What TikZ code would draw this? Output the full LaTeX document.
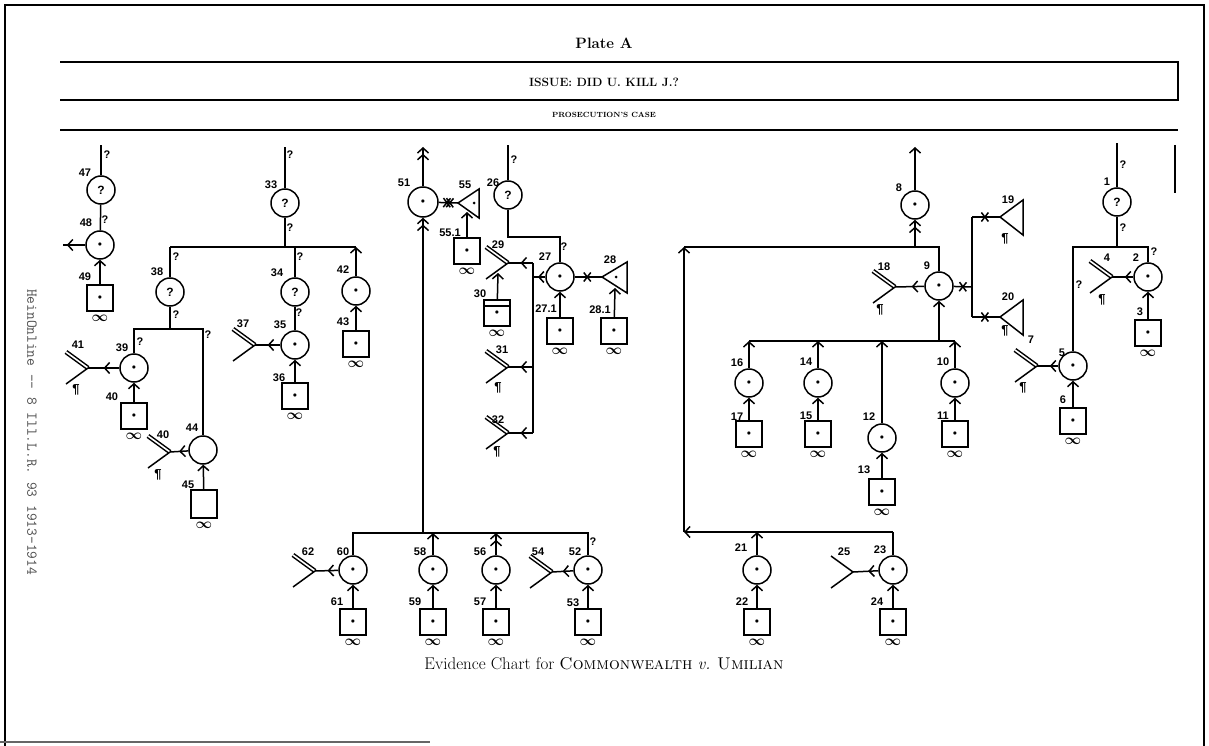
\documentclass[tikz,border=0pt]{standalone}
\usepackage{fontspec}
\newfontfamily\lab{Liberation Sans}
\usetikzlibrary{arrows.meta,decorations.markings}
\newcommand{\dt}{{\fontsize{8}{8}\selectfont$\bullet$}}
\tikzset{
 cir/.style={circle,draw,minimum size=28pt,inner sep=0pt,font=\lab\bfseries\fontsize{12}{12}\selectfont},
 sq/.style={draw,minimum size=26pt,inner sep=0pt,label={[inflab,label distance=2.5pt]below:$\infty$}},
 inflab/.style={font=\boldmath\fontsize{14}{14}\selectfont,inner sep=0.3pt},
 num/.style={font=\lab\bfseries\fontsize{11}{11}\selectfont,inner sep=0pt},
 pil/.style={font=\lab\bfseries\fontsize{13}{13}\selectfont,inner sep=0pt},
 qm/.style={font=\lab\bfseries\fontsize{11}{11}\selectfont,inner sep=0pt},
 arr/.style={-{Straight Barb[length=5pt,width=11pt]}},
 darr/.style={-{Straight Barb[length=5pt,width=11pt] Straight Barb[length=5pt,width=11pt]}},
 midtip/.style={postaction={decorate},decoration={markings,mark=at position #1 with {\arrow{Straight Barb[length=5pt,width=11pt]}}}},
 xm/.style={postaction={decorate},decoration={markings,mark=at position #1 with {\draw[-] (-3.5pt,-4.5pt)--(3.5pt,4.5pt) (-3.5pt,4.5pt)--(3.5pt,-4.5pt);}}},
 xx/.style={postaction={decorate},decoration={markings,mark=at position #1 with {\draw[-] (-5pt,-4.5pt)--(2pt,4.5pt) (-5pt,4.5pt)--(2pt,-4.5pt) (-2pt,-4.5pt)--(5pt,4.5pt) (-2pt,4.5pt)--(5pt,-4.5pt);}}},
 yfork/.pic={\coordinate (-v) at (0,0);
   \draw[double,double distance=1.6pt] (0,0) -- (-22,-16);
   \draw (0,0) -- (-22,16);},
 yfsingle/.pic={\coordinate (-v) at (0,0);
   \draw (0,0) -- (-22,-16);
   \draw (0,0) -- (-22,16);}
}
\begin{document}
\begin{tikzpicture}[x=1pt,y=-1pt,line width=1.5pt]
\useasboundingbox (0,0) rectangle (1209,746);
% frame
\draw (5,746) -- (5,5) -- (1204,5) -- (1204,746);
\draw[black!60] (0,742) -- (430,742);
% header
\draw (60,62) -- (1178,62) -- (1178,100) -- (60,100);
\draw (60,130) -- (1178,130);
\draw (1175,145) -- (1175,193);
\node[font=\bfseries\fontsize{15}{15}\selectfont] (plate) at (604,43) {Plate A};
\node[font=\bfseries\fontsize{12}{12}\selectfont] (issue) at (604,82) {ISSUE: DID U. KILL J.?};
\node[font=\bfseries\fontsize{7.5}{7.5}\selectfont] (pros) at (604,115) {PROSECUTION'S CASE};
\node[rotate=-90,font=\ttfamily\fontsize{15}{15}\selectfont,text=black!70] (hein) at (32,432) {HeinOnline -- 8 Ill.L.R. 93 1913-1914};
\node[font=\fontsize{17}{17}\selectfont] (cap) at (604,664) {Evidence Chart for \textsc{Commonwealth} \textit{v.} \textsc{Umilian}};

% ---------- circles
\node[cir] (c47) at (101,190) {?};
\node[cir] (c48) at (100,245) {\dt};
\node[cir] (c38) at (170,292) {?};
\node[cir] (c39) at (134,368) {\dt};
\node[cir] (c44) at (203,450) {};
\node[cir] (c33) at (285,203) {?};
\node[cir] (c34) at (295,292) {?};
\node[cir] (c35) at (295,345) {\dt};
\node[cir] (c42) at (356,291) {\dt};
\node[cir,minimum size=30pt] (c51) at (423,202) {\dt};
\node[cir] (c26) at (508,195) {?};
\node[cir] (c27) at (560,277) {\dt};
\node[cir] (c60) at (353,570) {\dt};
\node[cir] (c58) at (433,570) {\dt};
\node[cir] (c56) at (496,570) {\dt};
\node[cir] (c52) at (588,570) {\dt};
\node[cir] (c8) at (915,205) {\dt};
\node[cir] (c9) at (939,286) {\dt};
\node[cir] (c16) at (749,383) {\dt};
\node[cir] (c14) at (818,383) {\dt};
\node[cir] (c12) at (882,438) {\dt};
\node[cir] (c10) at (955,383) {\dt};
\node[cir] (c21) at (757,570) {\dt};
\node[cir] (c23) at (893,570) {\dt};
\node[cir] (c1) at (1117,202) {?};
\node[cir] (c2) at (1148,277) {\dt};
\node[cir] (c5) at (1073,366) {\dt};

% ---------- squares
\node[sq] (s49) at (100,298) {\dt};
\node[sq] (s40) at (134,416) {\dt};
\node[sq,minimum height=28pt] (s45) at (204,504) {};
\node[sq] (s36) at (295,396) {\dt};
\node[sq] (s43) at (356,344) {\dt};
\node[sq] (s551) at (467,251) {\dt};
\node[sq,path picture={\draw ([yshift=-6pt]path picture bounding box.north west) -- ([yshift=-6pt]path picture bounding box.north east);}] (s30) at (497,313) {\dt};
\node[sq] (s271) at (560,331) {\dt};
\node[sq] (s281) at (614,331) {\dt};
\node[sq] (s61) at (353,622) {\dt};
\node[sq] (s59) at (433,622) {\dt};
\node[sq] (s57) at (496,622) {\dt};
\node[sq] (s53) at (588,622) {\dt};
\node[sq] (s17) at (749,434) {\dt};
\node[sq] (s15) at (818,434) {\dt};
\node[sq] (s11) at (955,434) {\dt};
\node[sq] (s13) at (882,492) {\dt};
\node[sq] (s22) at (757,622) {\dt};
\node[sq] (s24) at (893,622) {\dt};
\node[sq] (s3) at (1148,333) {\dt};
\node[sq] (s6) at (1073,421) {\dt};

% ---------- triangles (apex left)
\draw (458,203) coordinate (t55) -- (479,189) -- (479,218) -- cycle;
\fill (474,203) circle (1.5pt);
\draw (602,277) coordinate (t28) -- (627,262) -- (627,293) -- cycle;
\fill (616,277) circle (1.5pt);
\draw (1000,217) coordinate (t19) -- (1023,200) -- (1023,235) -- cycle;
\draw (1000,317) coordinate (t20) -- (1023,300) -- (1023,335) -- cycle;

% ---------- forks
\pic (y41) at (88,368) {yfork};
\pic (y40) at (170,452) {yfork};
\pic (y37) at (255,345) {yfork};
\pic (y29) at (508,263) {yfork};
\pic (y31) at (508,367) {yfork};
\pic (y32) at (508,433) {yfork};
\pic (y62) at (315,571) {yfork};
\pic (y54) at (552,572) {yfork};
\pic (y18) at (895,287) {yfork};
\pic (y25) at (853,572) {yfsingle};
\pic (y4) at (1112,277) {yfork};
\pic (y7) at (1037,366) {yfork};

% ---------- coordinates
\coordinate (top47) at (101,145);
\coordinate (l48) at (63,245);
\coordinate (j38) at (170,247);
\coordinate (j33) at (285,247);
\coordinate (j34) at (295,247);
\coordinate (j42) at (356,247);
\coordinate (top33) at (285,147);
\coordinate (j38b) at (170,329);
\coordinate (h39) at (134,329);
\coordinate (h44) at (203,329);
\coordinate (top51) at (423,147);
\coordinate (bj51) at (423,533);
\coordinate (tb55) at (467,212);
\coordinate (top26) at (508,145);
\coordinate (a26) at (508,237);
\coordinate (j27) at (560,237);
\coordinate (v27) at (533,277);
\coordinate (v29) at (533,263);
\coordinate (v31) at (533,367);
\coordinate (v32) at (533,433);
\coordinate (a30) at (498,273);
\coordinate (tb28) at (615,288);
\coordinate (h60) at (353,533);
\coordinate (h52) at (588,533);
\coordinate (h58) at (433,533);
\coordinate (h56) at (496,533);
\coordinate (top8) at (915,147);
\coordinate (j8) at (915,247);
\coordinate (tl) at (684,247);
\coordinate (bl) at (684,532);
\coordinate (j9) at (939,247);
\coordinate (h23) at (893,532);
\coordinate (h21) at (757,532);
\coordinate (r9) at (972,287);
\coordinate (r19) at (972,217);
\coordinate (r20) at (972,317);
\coordinate (b9) at (939,341);
\coordinate (h16) at (749,341);
\coordinate (h14) at (818,341);
\coordinate (h12) at (882,341);
\coordinate (h10) at (955,341);
\coordinate (top1) at (1117,143);
\coordinate (j1) at (1117,247);
\coordinate (h5) at (1073,247);
\coordinate (h2) at (1148,247);

% ---------- connectors: left
\draw (c47) -- (top47);
\draw (c47) -- (c48);
\draw[midtip=0.83] (c48) -- (l48);
\draw[arr] (s49) -- (c48);
\draw (j38) -- (j42);
\draw (c38) -- (j38);
\draw (c33) -- (j33);
\draw (c33) -- (top33);
\draw (j34) -- (c34);
\draw[arr] (c42) -- (j42);
\draw (c38) -- (j38b);
\draw (c39) -- (h39) -- (h44) -- (c44);
\draw[midtip=0.5] (c39) -- (y41-v);
\draw[arr] (s40) -- (c39);
\draw[midtip=0.5] (c44) -- (y40-v);
\draw[arr] (s45) -- (c44);
\draw (c34) -- (c35);
\draw[midtip=0.5] (c35) -- (y37-v);
\draw[arr] (s36) -- (c35);
\draw[arr] (s43) -- (c42);

% ---------- connectors: centre
\draw[darr] (bj51) -- (c51);
\draw[darr] (c51) -- (top51);
\draw[xx=0.5] (c51) -- (t55);
\draw[arr] (s551) -- (tb55);
\draw (c26) -- (top26);
\draw (c26) -- (a26) -- (j27) -- (c27);
\draw[midtip=0.6] (c27) -- (v27);
\draw (v29) -- (v32);
\draw[midtip=0.5] (v29) -- (y29-v);
\draw[midtip=0.5] (v31) -- (y31-v);
\draw[midtip=0.5] (v32) -- (y32-v);
\draw[arr] (s30) -- (a30);
\draw[xm=0.46] (c27) -- (t28);
\draw[arr] (s271) -- (c27);
\draw[arr] (s281) -- (tb28);

% ---------- connectors: bottom centre
\draw (c60) -- (h60) -- (h52) -- (c52);
\draw[arr] (c58) -- (h58);
\draw[darr] (c56) -- (h56);
\draw[midtip=0.46] (c60) -- (y62-v);
\draw[midtip=0.5] (c52) -- (y54-v);
\draw[arr] (s61) -- (c60);
\draw[arr] (s59) -- (c58);
\draw[arr] (s57) -- (c56);
\draw[arr] (s53) -- (c52);

% ---------- connectors: right centre
\draw[arr] (c8) -- (top8);
\draw[darr] (j8) -- (c8);
\draw (tl) -- (j9) -- (c9);
\draw[arr] (bl) -- (tl);
\draw (c23) -- (h23);
\draw[arr] (h23) -- (bl);
\draw[arr] (c21) -- (h21);
\draw[midtip=0.43] (c9) -- (y18-v);
\draw[xm=0.5] (c9) -- (r9);
\draw (r19) -- (r20);
\draw[xm=0.46] (r19) -- (t19);
\draw[xm=0.46] (r20) -- (t20);
\draw[arr] (b9) -- (c9);
\draw (h16) -- (h10);
\draw[arr] (c16) -- (h16);
\draw[arr] (c14) -- (h14);
\draw[arr] (c12) -- (h12);
\draw[arr] (c10) -- (h10);
\draw[arr] (s17) -- (c16);
\draw[arr] (s15) -- (c14);
\draw[arr] (s13) -- (c12);
\draw[arr] (s11) -- (c10);
\draw[arr] (s22) -- (c21);
\draw[arr] (s24) -- (c23);
\draw[midtip=0.4] (c23) -- (y25-v);

% ---------- connectors: right
\draw (c1) -- (top1);
\draw (c1) -- (j1);
\draw (c5) -- (h5) -- (h2) -- (c2);
\draw[midtip=0.4] (c2) -- (y4-v);
\draw[midtip=0.4] (c5) -- (y7-v);
\draw[arr] (s3) -- (c2);
\draw[arr] (s6) -- (c5);

% ---------- question marks on lines
\node[qm] (q1) at (107,155) {?};
\node[qm] (q2) at (105,220) {?};
\node[qm] (q3) at (176,257) {?};
\node[qm] (q4) at (176,315) {?};
\node[qm] (q5) at (140,342) {?};
\node[qm] (q6) at (208,335) {?};
\node[qm] (q7) at (290,155) {?};
\node[qm] (q8) at (290,228) {?};
\node[qm] (q9) at (300,257) {?};
\node[qm] (q10) at (299,313) {?};
\node[qm] (q11) at (514,160) {?};
\node[qm] (q12) at (564,247) {?};
\node[qm] (q13) at (593,542) {?};
\node[qm] (q14) at (1123,165) {?};
\node[qm] (q15) at (1123,228) {?};
\node[qm] (q16) at (1154,252) {?};
\node[qm] (q17) at (1079,285) {?};

% ---------- number labels
\node[num] (n47) at (85,173) {47};
\node[num] (n48) at (86,223) {48};
\node[num] (n49) at (85,277) {49};
\node[num] (n38) at (157,272) {38};
\node[num] (n39) at (122,348) {39};
\node[num] (n41) at (78,345) {41};
\node[pil] (p41) at (76,390) {¶};
\node[num] (n40a) at (112,397) {40};
\node[num] (n40b) at (163,435) {40};
\node[pil] (p40) at (158,475) {¶};
\node[num] (n44) at (192,428) {44};
\node[num] (n45) at (188,485) {45};
\node[num] (n33) at (271,185) {33};
\node[num] (n34) at (277,273) {34};
\node[num] (n35) at (280,325) {35};
\node[num] (n37) at (243,324) {37};
\node[num] (n36) at (279,378) {36};
\node[num] (n42) at (343,270) {42};
\node[num] (n43) at (343,322) {43};
\node[num] (n51) at (404,183) {51};
\node[num] (n55) at (465,185) {55};
\node[num] (n551) at (450,233) {55.1};
\node[num] (n26) at (493,183) {26};
\node[num] (n29) at (498,245) {29};
\node[num] (n27) at (545,257) {27};
\node[num] (n28) at (610,260) {28};
\node[num] (n30) at (480,294) {30};
\node[num] (n271) at (546,309) {27.1};
\node[num] (n281) at (600,310) {28.1};
\node[num] (n31) at (502,350) {31};
\node[pil] (p31) at (498,388) {¶};
\node[num] (n32) at (498,420) {32};
\node[pil] (p32) at (497,452) {¶};
\node[num] (n62) at (308,552) {62};
\node[num] (n60) at (343,552) {60};
\node[num] (n61) at (337,602) {61};
\node[num] (n58) at (420,552) {58};
\node[num] (n59) at (415,602) {59};
\node[num] (n56) at (480,552) {56};
\node[num] (n57) at (480,602) {57};
\node[num] (n54) at (538,552) {54};
\node[num] (n52) at (575,552) {52};
\node[num] (n53) at (573,603) {53};
\node[num] (n8) at (899,188) {8};
\node[num] (n9) at (927,266) {9};
\node[num] (n18) at (884,267) {18};
\node[pil] (p18) at (880,310) {¶};
\node[num] (n19) at (1008,200) {19};
\node[pil] (p19) at (1005,239) {¶};
\node[num] (n20) at (1008,297) {20};
\node[pil] (p20) at (1005,331) {¶};
\node[num] (n16) at (737,363) {16};
\node[num] (n14) at (806,362) {14};
\node[num] (n12) at (869,417) {12};
\node[num] (n10) at (943,362) {10};
\node[num] (n17) at (737,417) {17};
\node[num] (n15) at (806,416) {15};
\node[num] (n11) at (943,416) {11};
\node[num] (n13) at (864,470) {13};
\node[num] (n21) at (741,548) {21};
\node[num] (n22) at (742,602) {22};
\node[num] (n23) at (880,550) {23};
\node[num] (n25) at (844,552) {25};
\node[num] (n24) at (877,602) {24};
\node[num] (n1) at (1107,182) {1};
\node[num] (n2) at (1136,258) {2};
\node[num] (n4) at (1107,258) {4};
\node[pil] (p4) at (1102,300) {¶};
\node[num] (n3) at (1140,312) {3};
\node[num] (n5) at (1062,353) {5};
\node[num] (n7) at (1031,340) {7};
\node[pil] (p7) at (1023,388) {¶};
\node[num] (n6) at (1063,400) {6};
\end{tikzpicture}
\end{document}
